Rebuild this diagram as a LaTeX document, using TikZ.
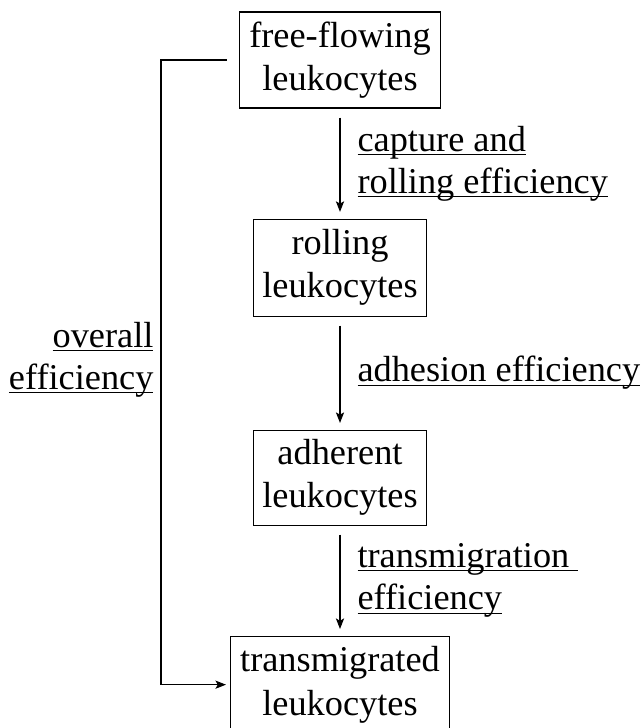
\documentclass[tikz,border=0pt]{standalone}
\usepackage{fontspec}
\setmainfont{Liberation Serif}
\usetikzlibrary{arrows.meta,positioning}
\newcommand{\ulword}[1]{\setbox0\hbox{#1}\rlap{\rule[-3.2pt]{\wd0}{0.9pt}}\box0}

\begin{document}
\begin{tikzpicture}[>={Stealth[length=9pt,width=7pt,inset=2pt]}, line width=0.9pt,
  cellbox/.style={draw, inner sep=0pt, align=center, font=\fontsize{31}{37}\selectfont},
  tag/.style={inner sep=0pt, font=\fontsize{31}{36}\selectfont},
  flow/.style={->, shorten <=0.27cm, shorten >=0.2cm}]
\useasboundingbox (0,0) rectangle (19.32,-21.84);

\node (free_box) at (10.2,-1.8) [cellbox, minimum width=6.03cm, minimum height=2.88cm] {free-flowing\\leukocytes};
\node (roll_box) at (free_box.south) [cellbox, minimum width=5.19cm, minimum height=2.91cm, below=3.3cm] {rolling\\leukocytes};
\node (adh_box) at (roll_box.south) [cellbox, minimum width=5.19cm, minimum height=2.85cm, below=3.39cm] {adherent\\leukocytes};
\node (trans_box) at (adh_box.south) [cellbox, minimum width=6.57cm, minimum height=2.91cm, below=3.3cm] {transmigrated\\leukocytes};
\coordinate (loop_top) at ([xshift=-2.34cm]free_box.west);

\draw [flow] (free_box) -- (roll_box) node [midway, right=0.51cm, tag, align=left] {\ulword{capture and}\\\ulword{rolling efficiency}};
\draw [flow] (roll_box) -- (adh_box) node [midway, right=0.51cm, tag] {\ulword{adhesion efficiency}};
\draw [flow] (adh_box) -- (trans_box) node [midway, right=0.51cm, tag, align=left] {\ulword{transmigration\ }\\\ulword{efficiency}};
\draw [->, shorten <=0.36cm, shorten >=0.12cm] (free_box.west) -- (loop_top) |- (trans_box.west) node [pos=0.24, left=0.21cm, tag, align=right] {\ulword{overall}\\\ulword{efficiency}};

\end{tikzpicture}
\end{document}
